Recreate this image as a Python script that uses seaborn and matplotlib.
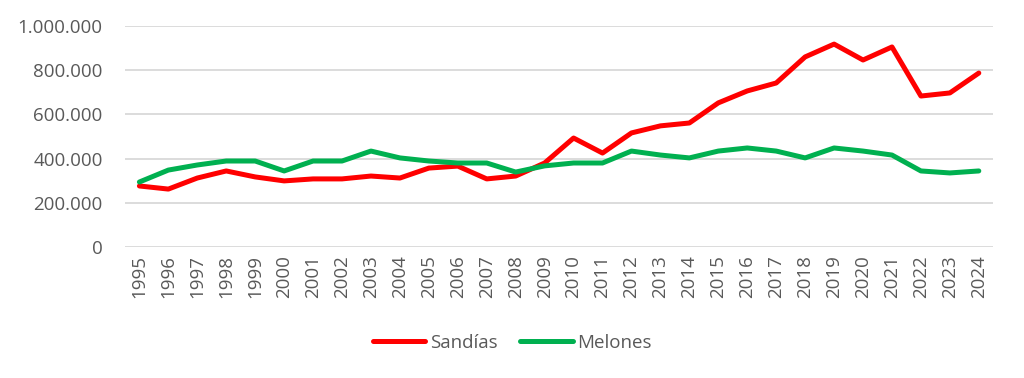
import matplotlib
matplotlib.use("Agg")
import matplotlib.pyplot as plt
import matplotlib.ticker as mticker
import seaborn as sns
import pandas as pd

years = [str(y) for y in range(1995, 2025)]
sandias = [276000, 262000, 312000, 344000, 317000, 299000, 308000, 308000, 321000, 312000,
           357000, 366000, 308000, 321000, 380000, 493000, 425000, 516000, 548000, 561000,
           652000, 706000, 742000, 860000, 918000, 846000, 905000, 683000, 697000, 787000]
melones = [294000, 348000, 371000, 389000, 389000, 344000, 389000, 389000, 434000, 403000,
           389000, 380000, 380000, 339000, 367000, 380000, 380000, 434000, 416000, 403000,
           434000, 448000, 434000, 403000, 448000, 434000, 416000, 344000, 335000, 344000]
series = ["Sandías", "Melones"]
colors = {"Sandías": "#FF0000", "Melones": "#00B050"}
y_ticks = [0, 200000, 400000, 600000, 800000, 1000000]

df = pd.DataFrame({
    "year": years * 2,
    "value": sandias + melones,
    "serie": ["Sandías"] * len(years) + ["Melones"] * len(years),
})

sns.set_theme(style="white")
plt.rcParams["font.family"] = ["Open Sans", "DejaVu Sans"]

fig = plt.figure(figsize=(10.24, 3.78), dpi=100)
ax = fig.add_axes([0.122, 0.3466, 0.848, 0.5847])

sns.lineplot(data=df, x="year", y="value", hue="serie", hue_order=series,
             palette=colors, linewidth=3.6, ax=ax, sort=False)

ax.set_xlim(-0.5, len(years) - 0.5)
ax.set_ylim(0, 1000000)
ax.set_yticks(y_ticks)
ax.yaxis.set_major_formatter(mticker.FuncFormatter(lambda v, p: f"{v:,.0f}".replace(",", ".")))
ax.grid(axis="y", color="#D9D9D9", linewidth=1.3)
ax.set_axisbelow(True)
for s in ax.spines.values():
    s.set_visible(False)
ax.tick_params(axis="both", length=0, colors="#595959", labelsize=13.5)
ax.tick_params(axis="x", pad=6)
ax.tick_params(axis="y", pad=16)
plt.setp(ax.get_xticklabels(), rotation=90)
ax.set_xlabel("")
ax.set_ylabel("")

leg = ax.legend(loc="center", bbox_to_anchor=(0.446, -0.434), ncol=2, frameon=False,
                fontsize=13.5, handlelength=2.8, columnspacing=1.2, handletextpad=0.25)
for t in leg.get_texts():
    t.set_color("#595959")

fig.savefig("out.png", dpi=100)
